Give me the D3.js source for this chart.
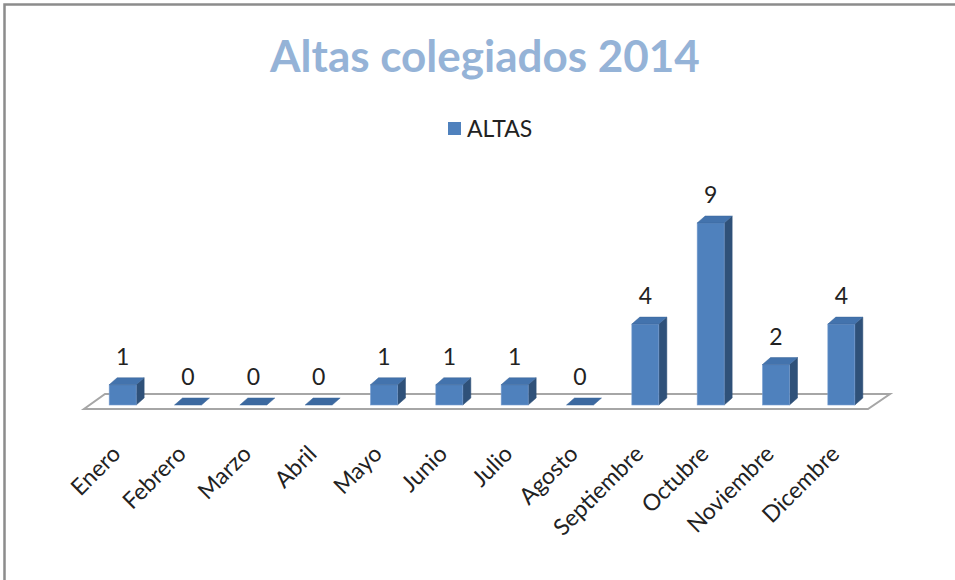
<!DOCTYPE html>
<html>
<head>
<meta charset="utf-8">
<script src="https://cdn.jsdelivr.net/npm/d3@7"></script>
<style>
  body { margin: 0; background: #fff; }
  svg { display: block; font-family: Lato, "Open Sans", sans-serif; }
</style>
</head>
<body>
<div id="chart"></div>
<script>
const months = ["Enero", "Febrero", "Marzo", "Abril", "Mayo", "Junio", "Julio",
  "Agosto", "Septiembre", "Octubre", "Noviembre", "Dicembre"];
const altas = [1, 0, 0, 0, 1, 1, 1, 0, 4, 9, 2, 4];
const seriesName = "ALTAS";
const title = "Altas colegiados 2014";

const width = 955, height = 580;
const svg = d3.select("#chart").append("svg")
  .attr("width", width)
  .attr("height", height);

// frame (only top and left edges visible)
svg.append("path")
  .attr("d", "M4.5,580 V4.5 H955")
  .attr("fill", "none")
  .attr("stroke", "#8c8c8c")
  .attr("stroke-width", 2.5);

const x = d3.scaleBand().domain(months).range([90, 874]);
const y = d3.scaleLinear().domain([0, 9]).range([405, 223]);

const barW = 27, dx = 8, dy = -7;

// floor
const floorFront = 409, floorBack = 394;
svg.append("path")
  .attr("d", `M84,${floorFront} L868,${floorFront} L890,${floorBack} L105,${floorBack} Z`)
  .attr("fill", "#fff")
  .attr("stroke", "#a6a6a6")
  .attr("stroke-width", 2);

const bars = svg.selectAll(".bar")
  .data(months.map((m, i) => ({ m, v: altas[i] })))
  .join("g")
  .attr("class", "bar");

const cx = d => x(d.m) + x.bandwidth() / 2;

// side face
bars.filter(d => d.v > 0).append("path")
  .attr("d", d => {
    const r = cx(d) + barW / 2, t = y(d.v), b = y(0);
    return `M${r},${b} L${r + dx},${b + dy} L${r + dx},${t + dy} L${r},${t} Z`;
  })
  .attr("fill", "#2f5179")
  .attr("stroke", "#2f5179")
  .attr("stroke-width", 0.5);

// front face
bars.filter(d => d.v > 0).append("rect")
  .attr("x", d => cx(d) - barW / 2)
  .attr("y", d => y(d.v))
  .attr("width", barW)
  .attr("height", d => y(0) - y(d.v))
  .attr("fill", "#4f81bd")
  .attr("stroke", "#7a9fd0")
  .attr("stroke-width", 0.6);

// top face
bars.append("path")
  .attr("d", d => {
    const l = cx(d) - barW / 2, r = cx(d) + barW / 2, t = y(d.v);
    return `M${l},${t} L${r},${t} L${r + dx},${t + dy} L${l + dx},${t + dy} Z`;
  })
  .attr("fill", d => d.v > 0 ? "#4373ad" : "#3c69a0")
  .attr("stroke", "#3a6499")
  .attr("stroke-width", 0.5);

// value labels
bars.append("text")
  .attr("x", d => cx(d))
  .attr("y", d => y(d.v) - 20)
  .attr("text-anchor", "middle")
  .attr("font-size", 23)
  .attr("fill", "#222")
  .text(d => d.v);

// category labels
svg.selectAll(".xlab")
  .data(months)
  .join("text")
  .attr("class", "xlab")
  .attr("text-anchor", "end")
  .attr("font-size", 23)
  .attr("fill", "#222")
  .attr("transform", d => `translate(${x(d) + x.bandwidth() / 2 - 12},${444}) rotate(-45)`)
  .attr("dy", "0.7em")
  .text(d => d);

// title
svg.append("text")
  .attr("x", 485)
  .attr("y", 72)
  .attr("text-anchor", "middle")
  .attr("font-size", 44)
  .attr("font-weight", "bold")
  .attr("fill", "#95b3d7")
  .text(title);

// legend
svg.append("rect")
  .attr("x", 448).attr("y", 122)
  .attr("width", 13).attr("height", 13)
  .attr("fill", "#4f81bd");
svg.append("text")
  .attr("x", 467).attr("y", 137)
  .attr("font-size", 23)
  .attr("fill", "#222")
  .text(seriesName);
</script>
</body>
</html>
